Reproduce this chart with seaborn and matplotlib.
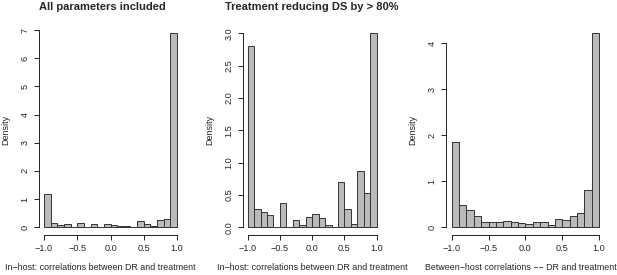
import numpy as np
import pandas as pd
import matplotlib
matplotlib.use("Agg")
import matplotlib.pyplot as plt
import seaborn as sns

# R-style histograms: bins of width 0.1 from -1 to 1
bin_edges = np.round(np.linspace(-1.0, 1.0, 21), 2)
bin_centers = np.round((bin_edges[:-1] + bin_edges[1:]) / 2, 3)

# densities
density_all = [1.17, 0.15, 0.08, 0.12, 0.0, 0.14, 0.01, 0.10, 0.01, 0.10,
               0.09, 0.05, 0.03, 0.02, 0.22, 0.13, 0.06, 0.27, 0.28, 6.90]
density_treat80 = [2.80, 0.28, 0.23, 0.19, 0.0, 0.37, 0.01, 0.11, 0.03, 0.16,
                   0.21, 0.14, 0.03, 0.01, 0.70, 0.28, 0.05, 0.87, 0.53, 3.00]
density_between = [1.86, 0.49, 0.37, 0.23, 0.12, 0.11, 0.11, 0.14, 0.11, 0.09,
                   0.07, 0.12, 0.10, 0.05, 0.18, 0.15, 0.23, 0.31, 0.81, 4.22]

titles = ["All parameters included", "Treatment reducing DS by > 80%", ""]
xlabels = ["In\u2212host: correlations between DR and treatment",
           "In\u2212host: correlations between DR and treatment",
           "Between\u2212host correlations \u2212\u2212 DR and treatment"]
yticks = [[0, 1, 2, 3, 4, 5, 6, 7],
          [0.0, 0.5, 1.0, 1.5, 2.0, 2.5, 3.0],
          [0, 1, 2, 3, 4]]
ytick_labels = [["0", "1", "2", "3", "4", "5", "6", "7"],
                ["0.0", "0.5", "1.0", "1.5", "2.0", "2.5", "3.0"],
                ["0", "1", "2", "3", "4"]]
xticks = [-1.0, -0.5, 0.0, 0.5, 1.0]
xtick_labels = ["\u22121.0", "\u22120.5", "0.0", "0.5", "1.0"]

sns.set_style("white")
plt.rcParams["font.family"] = ["Liberation Sans", "DejaVu Sans"]

W, H = 617, 275
fig = plt.figure(figsize=(W / 100, H / 100), dpi=100)

# panel boxes in pixels: left, right, top, bottom
boxes = [(38.7, 182.3, 25.0, 235.0),
         (242.5, 381.9, 25.5, 235.1),
         (445.8, 605.0, 25.5, 234.8)]
title_x = [102, 312, 525]
xlabel_x = [100, 312, 521]
ylabel_x = [6, 210, 413]

series = [density_all, density_treat80, density_between]

for i, (l, r, t, b) in enumerate(boxes):
    ax = fig.add_axes([l / W, 1 - b / H, (r - l) / W, (b - t) / H])
    df = pd.DataFrame({"x": bin_centers, "density": series[i]})
    sns.histplot(data=df, x="x", weights="density", binwidth=0.1,
                 binrange=(-1.0, 1.0), ax=ax, color="#bababa",
                 edgecolor="#333333", linewidth=0.7, alpha=1)
    ymax = max(series[i])
    ax.set_xlim(-1.08, 1.08)
    ax.set_ylim(-0.04 * ymax, 1.04 * ymax)
    for s in ["top", "right"]:
        ax.spines[s].set_visible(False)
    for s in ["left", "bottom"]:
        ax.spines[s].set_color("#222222")
        ax.spines[s].set_linewidth(0.7)
    ax.spines["bottom"].set_bounds(-1, 1)
    ax.spines["left"].set_bounds(yticks[i][0], yticks[i][-1])
    ax.set_xticks(xticks)
    ax.set_xticklabels(xtick_labels)
    ax.set_yticks(yticks[i])
    ax.set_yticklabels(ytick_labels[i], rotation=90, va="center")
    ax.tick_params(axis="both", direction="out", length=3.5, width=0.7,
                   color="#222222", labelsize=6.6, pad=3)
    ax.tick_params(axis="y", left=True)
    ax.tick_params(axis="x", bottom=True)
    ax.set_xlabel("")
    ax.set_ylabel("")
    ax.grid(False)
    fig.text(xlabel_x[i] / W, 1 - 268 / H, xlabels[i], ha="center", va="center",
             fontsize=6.4)
    fig.text(ylabel_x[i] / W, 1 - ((t + b) / 2) / H, "Density", ha="center",
             va="center", rotation=90, fontsize=6.5)
    if titles[i]:
        fig.text(title_x[i] / W, 1 - 6.5 / H, titles[i], ha="center", va="center",
                 fontsize=8.0, fontweight="bold")

fig.savefig("out.png", dpi=100)
